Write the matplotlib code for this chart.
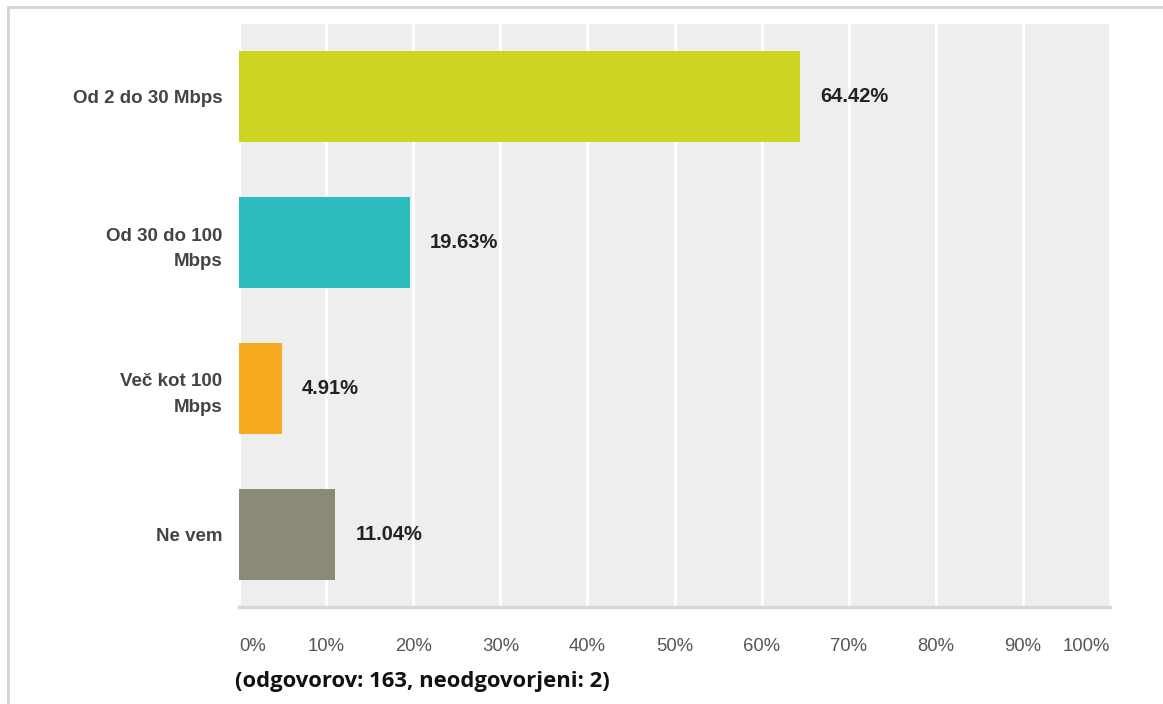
import numpy as np
import matplotlib.pyplot as plt
from matplotlib.lines import Line2D

# Podatki
kategorije = ['Od 2 do 30 Mbps', 'Od 30 do 100\nMbps', 'Več kot 100\nMbps', 'Ne vem']
odstotki = [64.42, 19.63, 4.91, 11.04]
barve = ['#cdd422', '#2ebdbf', '#f5aa1f', '#8b8a79']
tick_vrednosti = [0, 10, 20, 30, 40, 50, 60, 70, 80, 90, 100]
tick_oznake = ['0%', '10%', '20%', '30%', '40%', '50%', '60%', '70%', '80%', '90%', '100%']
opomba = '(odgovorov: 163, neodgovorjeni: 2)'

fig = plt.figure(figsize=(11.63, 7.04), dpi=100)
ax = fig.add_axes([239 / 1163, 97 / 704, 871 / 1163, 583 / 704])

y = np.arange(len(kategorije))
ax.set_facecolor('#eeeeee')
ax.barh(y, odstotki, height=0.625, color=barve, zorder=3)

# Oznake vrednosti
for yi, v in zip(y, odstotki):
    ax.annotate(f'{v:.2f}%', xy=(v, yi), xytext=(14.5, 0), textcoords='offset points',
                ha='left', va='center', fontsize=14.5, fontweight='bold',
                color='#222222', family='Liberation Sans', zorder=4)

ax.set_xlim(0, 100)
ax.set_ylim(3.5, -0.5)
ax.set_xticks(tick_vrednosti)
ax.set_xticklabels(tick_oznake, fontsize=13.3, color='#555555', family='Liberation Sans')
labels = ax.get_xticklabels()
labels[0].set_ha('left')
labels[-1].set_ha('right')
ax.set_yticks(y)
ax.set_yticklabels(kategorije, fontsize=13.5, fontweight='bold', color='#444444',
                   family='Liberation Sans', linespacing=1.65)
ax.tick_params(axis='x', length=0, pad=22)
ax.tick_params(axis='y', length=0, pad=12)
ax.xaxis.grid(True, color='white', linewidth=2, zorder=1)
ax.set_axisbelow(True)
for s in ['top', 'right', 'left']:
    ax.spines[s].set_visible(False)
ax.spines['bottom'].set_color('#d6d6d6')
ax.spines['bottom'].set_linewidth(2.5)

# Okvir
fig.add_artist(Line2D([8 / 1163, 1.0], [1 - 7 / 704, 1 - 7 / 704], color='#d4d4d4', lw=2))
fig.add_artist(Line2D([8 / 1163, 8 / 1163], [0, 1 - 7 / 704], color='#d4d4d4', lw=2))

fig.text(235 / 1163, 1 - 681 / 704, opomba, fontsize=15.8, fontweight='bold',
         family='Open Sans', color='#111111', va='center', ha='left')

fig.savefig('out.png', dpi=100)
